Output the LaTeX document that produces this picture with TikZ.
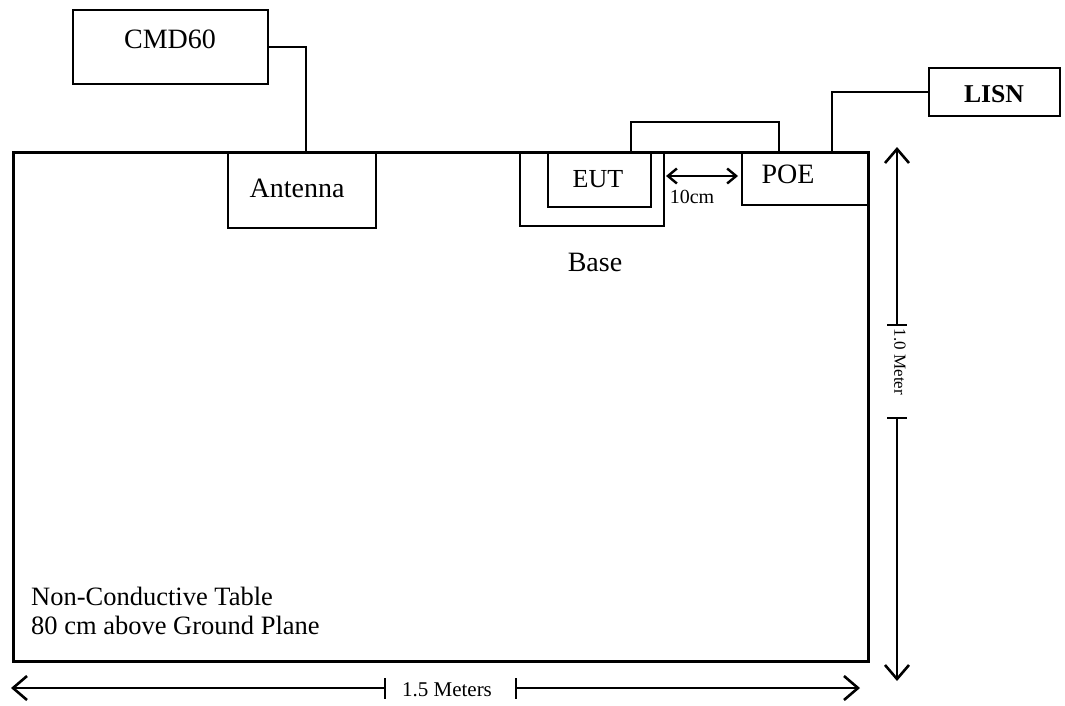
\documentclass[tikz,border=0pt]{standalone}
\usepackage{fontspec}
\setmainfont{Liberation Serif}
\usetikzlibrary{arrows.meta,calc}
\begin{document}
\begin{tikzpicture}[x=1pt,y=-1pt,
  box/.style={draw,line width=1.8pt,inner sep=0pt,anchor=north west},
  tbl/.style={draw,line width=3.2pt,inner sep=0pt,anchor=north west},
  wire/.style={line width=1.8pt},
  dim/.style={line width=1.8pt},
  bigtip/.style={-{Straight Barb[length=14pt,width=24pt,line width=2.6pt]}},
  smalltip/.style={{Straight Barb[length=9pt,width=15pt,line width=2.4pt]}-{Straight Barb[length=9pt,width=15pt,line width=2.4pt]}},
  lbl/.style={inner sep=0pt,anchor=base,font=\fontsize{28}{30}\selectfont},
]
\useasboundingbox (0,0) rectangle (1065,705);
% table
\node[tbl,minimum width=855pt,minimum height=509pt] (table) at (12,151) {};
% boxes
\node[box,minimum width=195pt,minimum height=74pt] (cmd) at (72,9) {};
\node[box,minimum width=148pt,minimum height=76pt] (ant) at (227,151) {};
\node[box,minimum width=144pt,minimum height=74pt] (base) at (519,151) {};
\node[box,minimum width=103pt,minimum height=55pt] (eut) at (547,151) {};
\node[box,minimum width=127pt,minimum height=53pt] (poe) at (741,151) {};
\node[box,minimum width=131pt,minimum height=48pt] (lisn) at (928,67) {};
% texts
\node[lbl] (tcmd) at (170,48) {CMD60};
\node[lbl] (tant) at (297,197) {Antenna};
\node[lbl,font=\fontsize{26}{28}\selectfont] (teut) at (598,187) {EUT};
\node[lbl] (tpoe) at (788,183) {POE};
\node[lbl] (tbase) at (595,271) {Base};
\node[lbl,font=\fontsize{25.7}{28}\selectfont\bfseries] (tlisn) at (994,102) {LISN};
\node[lbl,font=\fontsize{20}{22}\selectfont] (t10) at (692,203) {10cm};
\node[inner sep=0pt,anchor=base west,font=\fontsize{26.5}{29}\selectfont] (ttab1) at (31,605) {Non-Conductive Table};
\node[inner sep=0pt,anchor=base west,font=\fontsize{26.5}{29}\selectfont] (ttab2) at (31,634) {80 cm above Ground Plane};
% wires
\coordinate (antin) at (306,151);
\draw[wire] (cmd.east) -| (antin);
\coordinate (c1) at (631,151);
\coordinate (c2) at (779,151);
\coordinate (ctop) at (0,122);
\draw[wire] (c1) |- (ctop -| c2) -- (c2);
\coordinate (lisnin) at (832,151);
\draw[wire] (lisn.west) -| (lisnin);
% 10cm arrow
\coordinate (a1) at (666,176);
\coordinate (a2) at (738,176);
\draw[dim,smalltip] (a1) -- (a2);
% right dimension
\coordinate (rt1) at (897,325);
\coordinate (rt2) at (897,418);
\coordinate (rtop) at (897,147);
\coordinate (rbot) at (897,681);
\draw[dim,bigtip] (rt1) -- (rtop);
\draw[dim,bigtip] (rt2) -- (rbot);
\draw[dim] ($(rt1)+(-10,0)$) -- ($(rt1)+(10,0)$);
\draw[dim] ($(rt2)+(-10,0)$) -- ($(rt2)+(10,0)$);
\node[inner sep=0pt,rotate=-90,font=\fontsize{17}{20}\selectfont] (tmeter) at (900,362) {1.0 Meter};
% bottom dimension
\coordinate (bt1) at (385,688);
\coordinate (bt2) at (516,688);
\coordinate (bl) at (11,688);
\coordinate (br) at (860,688);
\draw[dim,bigtip] (bt1) -- (bl);
\draw[dim,bigtip] (bt2) -- (br);
\draw[dim] ($(bt1)+(0,-10)$) -- ($(bt1)+(0,11)$);
\draw[dim] ($(bt2)+(0,-10)$) -- ($(bt2)+(0,11)$);
\node[lbl,font=\fontsize{21}{23}\selectfont] (t15) at (447,696) {1.5 Meters};
\end{tikzpicture}
\end{document}
